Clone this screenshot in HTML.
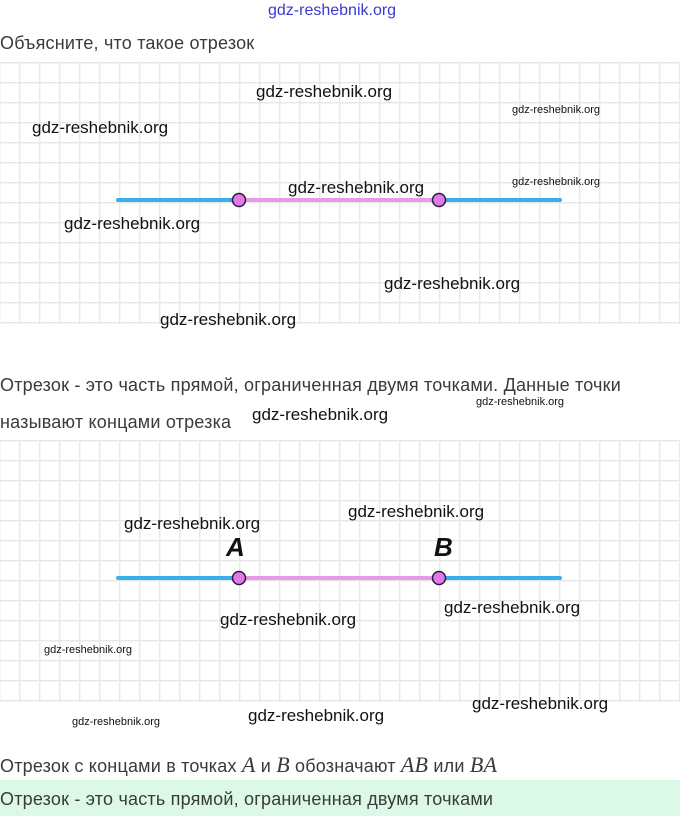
<!DOCTYPE html>
<html><head><meta charset="utf-8"><style>
body{margin:0;width:680px;height:816px;background:#fff;position:relative;overflow:hidden;font-family:"Liberation Sans",sans-serif}
.t{position:absolute;left:0;font-size:18px;letter-spacing:0.2px;color:#3a3a3a;white-space:nowrap}
.w{position:absolute;font-family:"Liberation Sans",sans-serif;color:#111;white-space:nowrap;font-size:17px}
.s{font-size:11px}
.grid{position:absolute;left:0;width:680px;background-color:#fff;
background-image:linear-gradient(#e8e8e8 1.5px,transparent 1.5px),linear-gradient(90deg,#e8e8e8 1.5px,transparent 1.5px);
background-size:20px 20px;background-position:0 0,19px 0}
i{font-family:"Liberation Serif",serif;font-size:22px}
</style></head><body>
<div class="w" style="left:268px;top:2px;color:#3a3ad0;font-size:16px">gdz-reshebnik.org</div>
<div class="t" style="top:33px">Объясните, что такое отрезок</div>
<div class="grid" style="top:62px;height:262px"></div>
<div class="grid" style="top:440px;height:262px"></div>
<svg style="position:absolute;left:0;top:0" width="680" height="816">
<line x1="118" y1="200" x2="560" y2="200" stroke="#3aaeea" stroke-width="4" stroke-linecap="round"/>
<line x1="239" y1="200" x2="439" y2="200" stroke="#e59be8" stroke-width="4"/>
<circle cx="239" cy="200" r="6.5" fill="#e27ae6" stroke="#2a1a40" stroke-width="1.5"/>
<circle cx="439" cy="200" r="6.5" fill="#e27ae6" stroke="#2a1a40" stroke-width="1.5"/>
<line x1="118" y1="578" x2="560" y2="578" stroke="#3aaeea" stroke-width="4" stroke-linecap="round"/>
<line x1="239" y1="578" x2="439" y2="578" stroke="#e59be8" stroke-width="4"/>
<circle cx="239" cy="578" r="6.5" fill="#e27ae6" stroke="#2a1a40" stroke-width="1.5"/>
<circle cx="439" cy="578" r="6.5" fill="#e27ae6" stroke="#2a1a40" stroke-width="1.5"/>
<text x="226" y="556" font-family="Liberation Sans" font-style="italic" font-weight="bold" font-size="26" fill="#111">A</text>
<text x="434" y="556" font-family="Liberation Sans" font-style="italic" font-weight="bold" font-size="26" fill="#111">B</text>
</svg>
<div class="w" style="left:256px;top:82px">gdz-reshebnik.org</div>
<div class="w s" style="left:512px;top:104px">gdz-reshebnik.org</div>
<div class="w" style="left:32px;top:118px">gdz-reshebnik.org</div>
<div class="w" style="left:288px;top:178px">gdz-reshebnik.org</div>
<div class="w s" style="left:512px;top:176px">gdz-reshebnik.org</div>
<div class="w" style="left:64px;top:214px">gdz-reshebnik.org</div>
<div class="w" style="left:384px;top:274px">gdz-reshebnik.org</div>
<div class="w" style="left:160px;top:310px">gdz-reshebnik.org</div>
<div class="t" style="top:375px">Отрезок - это часть прямой, ограниченная двумя точками. Данные точки</div>
<div class="w s" style="left:476px;top:396px">gdz-reshebnik.org</div>
<div class="t" style="top:412px">называют концами отрезка</div>
<div class="w" style="left:252px;top:405px">gdz-reshebnik.org</div>
<div class="w" style="left:348px;top:502px">gdz-reshebnik.org</div>
<div class="w" style="left:124px;top:514px">gdz-reshebnik.org</div>
<div class="w" style="left:444px;top:598px">gdz-reshebnik.org</div>
<div class="w" style="left:220px;top:610px">gdz-reshebnik.org</div>
<div class="w s" style="left:44px;top:644px">gdz-reshebnik.org</div>
<div class="w" style="left:472px;top:694px">gdz-reshebnik.org</div>
<div class="w" style="left:248px;top:706px">gdz-reshebnik.org</div>
<div class="w s" style="left:72px;top:716px">gdz-reshebnik.org</div>
<div class="t" style="top:752px">Отрезок с концами в точках <i>A</i> и <i>B</i> обозначают <i>AB</i> или <i>BA</i></div>
<div style="position:absolute;left:0;top:780px;width:680px;height:36px;background:#dcf9e8"></div>
<div class="t" style="top:789px">Отрезок - это часть прямой, ограниченная двумя точками</div>
</body></html>
